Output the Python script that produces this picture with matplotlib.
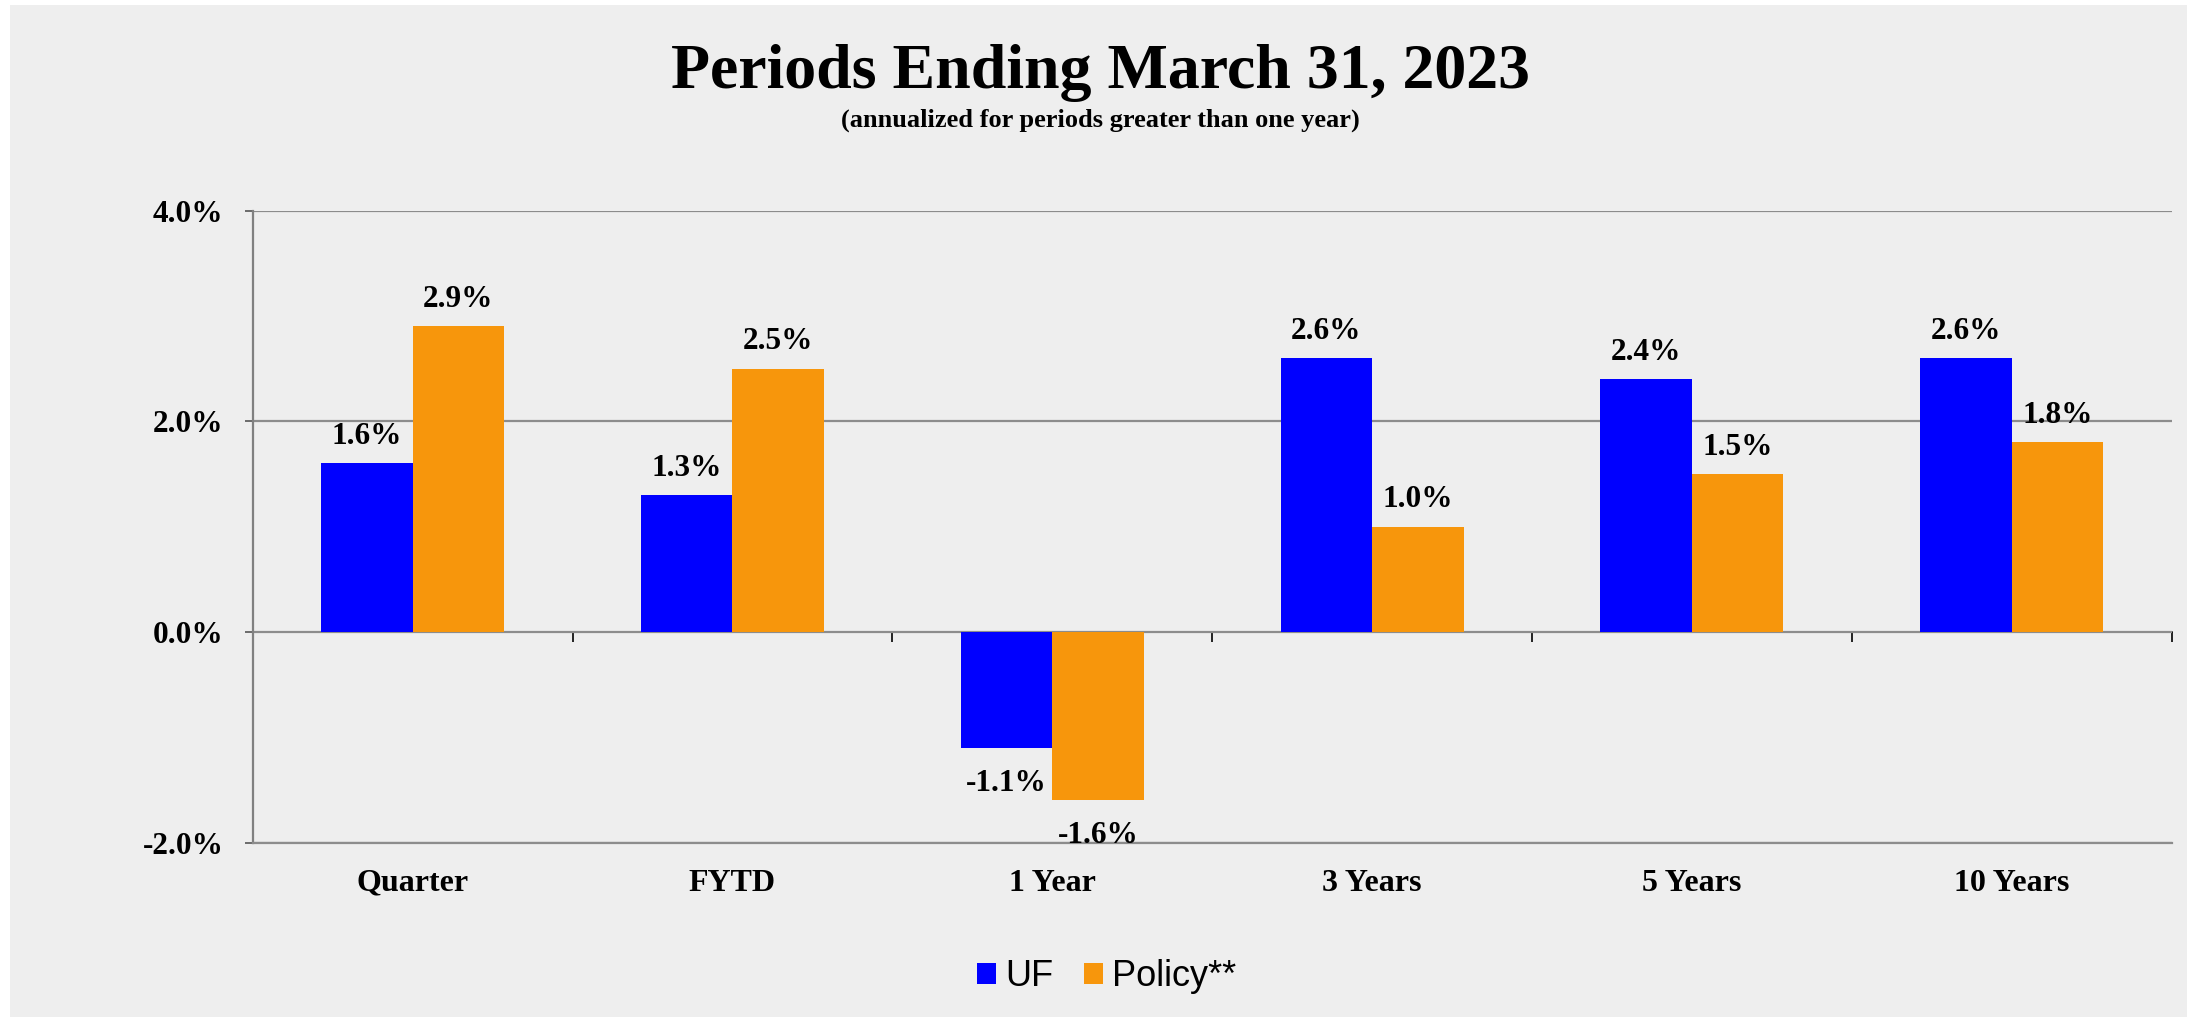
import matplotlib
matplotlib.use("Agg")
import matplotlib.pyplot as plt
from matplotlib.patches import Patch, Rectangle
from matplotlib.ticker import StrMethodFormatter
import numpy as np

# -------------------------------
# Returns by period (percent)
# -------------------------------
categories = ["Quarter", "FYTD", "1 Year", "3 Years", "5 Years", "10 Years"]
uf_returns = [1.6, 1.3, -1.1, 2.6, 2.4, 2.6]
policy_returns = [2.9, 2.5, -1.6, 1.0, 1.5, 1.8]
series_names = ["UF", "Policy**"]
y_ticks = [-2.0, 0.0, 2.0, 4.0]

BLUE = "#0000ff"
ORANGE = "#f7960c"
BG = "#eeeeee"
GRID = "#8c8c8c"
SERIF = "Liberation Serif"

plt.rcParams["axes.unicode_minus"] = False

fig = plt.figure(figsize=(21.87, 10.17), dpi=100, facecolor="white")
# grey panel with a thin white margin on the top and left
fig.patches.append(Rectangle((10 / 2187, 0), 1, 1 - 5 / 1017, transform=fig.transFigure,
                             facecolor=BG, edgecolor="none", zorder=-10))

ax = fig.add_axes([252.7 / 2187, 1 - 842.5 / 1017, (2171.7 - 252.7) / 2187, (842.5 - 210.5) / 1017])
ax.set_facecolor("none")

x = np.arange(len(categories))
w = 0.286
bars_uf = ax.bar(x - w / 2, uf_returns, w, color=BLUE, linewidth=0, zorder=3)
bars_pol = ax.bar(x + w / 2, policy_returns, w, color=ORANGE, linewidth=0, zorder=3)

ax.set_xlim(-0.5, len(categories) - 0.5)
ax.set_ylim(y_ticks[0], y_ticks[-1])

# value labels above positive bars, below negative ones
for bars, vals in [(bars_uf, uf_returns), (bars_pol, policy_returns)]:
    for b, v in zip(bars, vals):
        cx = b.get_x() + b.get_width() / 2
        if v >= 0:
            ax.annotate(f"{v:.1f}%", (cx, v), xytext=(0, 13.7), textcoords="offset points",
                        ha="center", va="baseline", fontsize=22.5, fontweight="bold",
                        family=SERIF, zorder=4)
        else:
            ax.annotate(f"{v:.1f}%", (cx, v), xytext=(0, -15), textcoords="offset points",
                        ha="center", va="top", fontsize=22.5, fontweight="bold",
                        family=SERIF, zorder=4)

# y axis
ax.set_yticks(y_ticks)
ax.yaxis.set_major_formatter(StrMethodFormatter("{x:.1f}%"))
ax.tick_params(axis="y", direction="out", length=6, width=1.2, color="#555555", pad=15)
for lab in ax.get_yticklabels():
    lab.set_fontsize(22.5)
    lab.set_fontweight("bold")
    lab.set_family(SERIF)
ax.yaxis.grid(True, color=GRID, linewidth=1.6)
ax.set_axisbelow(True)

# category labels along the bottom
ax.set_xticks(x)
ax.set_xticklabels(categories, fontsize=23, fontweight="bold", family=SERIF)
ax.tick_params(axis="x", length=0, pad=19)

for side in ["top", "right"]:
    ax.spines[side].set_visible(False)
ax.spines["left"].set_color("#808080")
ax.spines["left"].set_linewidth(1.6)
ax.spines["bottom"].set_color(GRID)
ax.spines["bottom"].set_linewidth(1.6)

# zero line with boundary ticks between the periods
zero_frac = (0 - y_ticks[0]) / (y_ticks[-1] - y_ticks[0])
secax = ax.secondary_xaxis(zero_frac)
secax.set_xticks(np.arange(len(categories) + 1) - 0.5)
secax.tick_params(axis="x", direction="out", length=7, width=1.2, color="black",
                  labelbottom=False, labeltop=False)
for sp in secax.spines.values():
    sp.set_color("black")
    sp.set_linewidth(1.1)

# titles
fig.text(0.503, 1 - 88 / 1017, "Periods Ending March 31, 2023", ha="center", va="baseline",
         fontsize=46, fontweight="bold", family=SERIF)
fig.text(0.503, 1 - 127 / 1017, "(annualized for periods greater than one year)", ha="center",
         va="baseline", fontsize=19, fontweight="bold", family=SERIF)

handles = [Patch(facecolor=BLUE, label=series_names[0]),
           Patch(facecolor=ORANGE, label=series_names[1])]
fig.legend(handles=handles, loc="center", bbox_to_anchor=(0.506, 1 - 977 / 1017), ncol=2,
           frameon=False, prop={"family": "Liberation Sans", "size": 26},
           handlelength=0.53, handleheight=0.53, handletextpad=0.27, columnspacing=0.83)

fig.savefig("out.png", dpi=100, facecolor=fig.get_facecolor())
